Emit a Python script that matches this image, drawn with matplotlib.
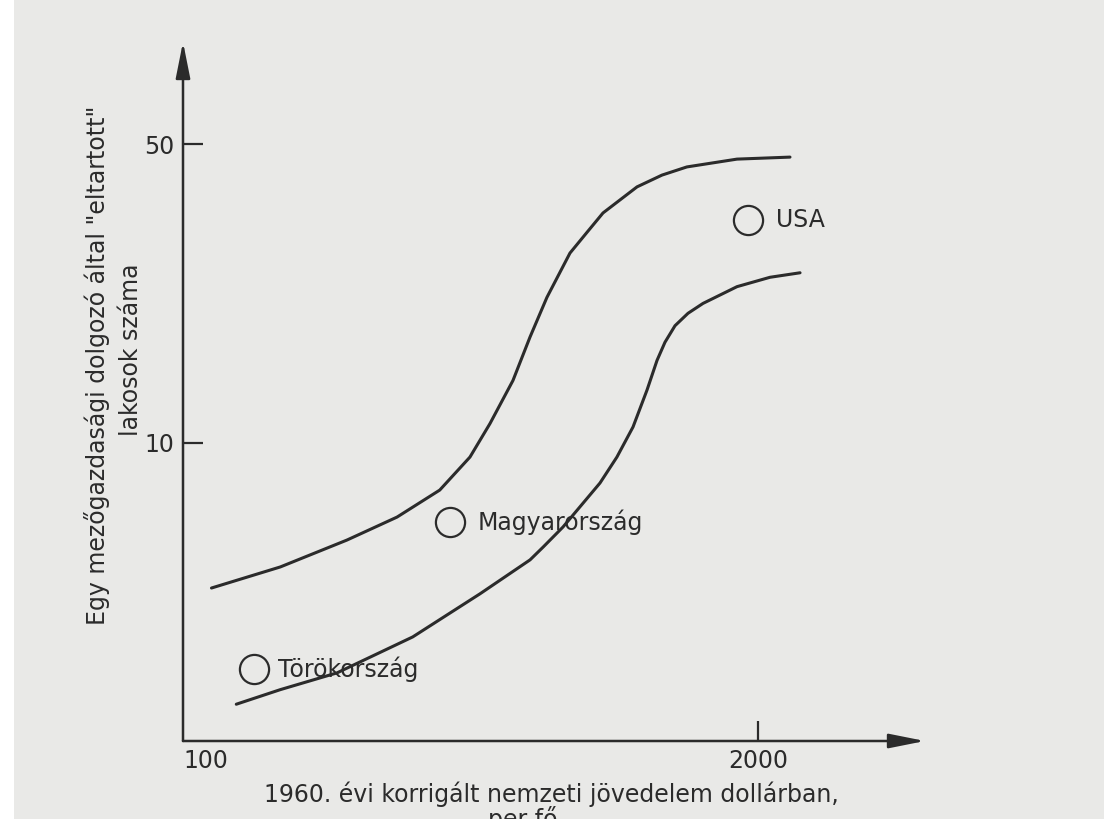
import matplotlib
matplotlib.use("Agg")
from matplotlib import pyplot as plt
from matplotlib.patches import Rectangle

# curves (x: dollars per head, y: persons fed)
upper_x = [116, 166, 235, 305, 381, 446, 495, 558, 610, 666, 751, 821, 892, 1065, 1213, 1381, 1793, 2363]
upper_y = [4.58, 5.13, 5.93, 6.71, 7.76, 9.27, 11.1, 14.0, 17.7, 21.9, 27.8, 31.1, 34.5, 39.7, 42.3, 44.2, 46.1, 46.6]

lower_x = [132, 166, 223, 331, 470, 610, 653, 724, 791, 878, 959, 1043, 1122, 1182, 1232, 1298, 1389, 1502, 1793, 2129, 2490]
lower_y = [2.45, 2.65, 2.90, 3.52, 4.44, 5.33, 5.71, 6.36, 7.09, 8.06, 9.27, 10.9, 13.3, 15.6, 17.2, 18.8, 20.1, 21.2, 23.2, 24.4, 25.0]

countries = ["Törökország", "Magyarország", "USA"]
country_x = [145, 402, 1898]
country_y = [2.96, 6.54, 33.2]
label_gap = [17, 20, 20]

x_ticks = [100, 2000]
x_tick_labels = ["100", "2000"]
y_ticks = [10, 50]
y_tick_labels = ["10", "50"]

ink = "#2b2b2b"
paper = "#e9e9e7"
fs = 17

plt.rcParams['font.family'] = ['DejaVu Sans']

fig = plt.figure(figsize=(11.04, 8.19), dpi=100)
fig.patch.set_facecolor(paper)
fig.patches.append(Rectangle((0, 0), 14/1104, 1, transform=fig.transFigure,
                             facecolor="white", edgecolor="none", zorder=0))

W, H = 1104, 819
ax = fig.add_axes([183/W, 1 - 741/H, (925 - 183)/W, (741 - 42)/H])
ax.set_facecolor("none")
ax.set_xscale("log")
ax.set_yscale("log")
ax.set_xlim(100, 4775)
ax.set_ylim(2.01, 86.6)
for s in ax.spines.values():
    s.set_visible(False)

# axes with arrow heads
arrow = dict(arrowstyle="-|>,head_length=1.1,head_width=0.22", color=ink,
             lw=1.8, shrinkA=0, shrinkB=0, mutation_scale=20)
ax.annotate("", xy=(0, 1), xytext=(0, 0), xycoords="axes fraction", arrowprops=arrow)
ax.annotate("", xy=(1, 0), xytext=(0, 0), xycoords="axes fraction", arrowprops=arrow)

ax.plot(upper_x, upper_y, color=ink, lw=2.2, solid_capstyle="round", solid_joinstyle="round")
ax.plot(lower_x, lower_y, color=ink, lw=2.2, solid_capstyle="round", solid_joinstyle="round")

ax.plot(country_x, country_y, "o", ms=21, mfc="none", mec=ink, mew=1.6, ls="none")
for name, x, y, g in zip(countries, country_x, country_y, label_gap):
    ax.annotate(name, (x, y), xytext=(g, 0), textcoords="offset points",
                ha="left", va="center", fontsize=fs, color=ink)

ax.set_xticks(x_ticks)
ax.set_xticklabels(x_tick_labels)
ax.set_yticks(y_ticks)
ax.set_yticklabels(y_tick_labels)
ax.minorticks_off()
ax.tick_params(axis="both", direction="in", length=14.5, width=1.6, color=ink,
               labelsize=fs, labelcolor=ink)
ax.tick_params(axis="x", pad=6)
ax.tick_params(axis="y", pad=6)
xt = ax.xaxis.get_major_ticks()
xt[0].tick1line.set_visible(False)
xt[0].label1.set_horizontalalignment("left")

# axis titles
fig.text(97/W, 1 - 365/H, "Egy mezőgazdasági dolgozó által \"eltartott\"",
         rotation=90, ha="center", va="center", fontsize=fs, color=ink)
fig.text(131/W, 1 - 350/H, "lakosok száma",
         rotation=90, ha="center", va="center", fontsize=fs, color=ink)
fig.text(551/W, 1 - 802/H, "1960. évi korrigált nemzeti jövedelem dollárban,",
         ha="center", va="baseline", fontsize=fs, color=ink)
# second line is cut by the page edge in the scan
fig.text(523/W, 1 - 827/H, "per fő",
         ha="center", va="baseline", fontsize=fs, color=ink)

fig.savefig("out.png", dpi=100, facecolor=fig.get_facecolor())
